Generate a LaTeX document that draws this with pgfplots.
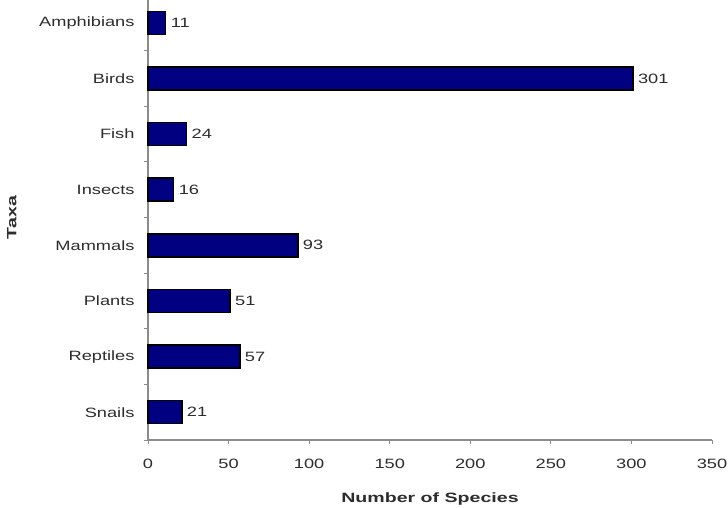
\documentclass[border=0pt]{standalone}
\usepackage{fontspec}
\setmainfont[FakeStretch=1.35]{Liberation Sans}
\newfontfamily\boldlab[FakeStretch=1.45]{Liberation Sans}
\usepackage{pgfplots}
\pgfplotsset{compat=1.18}
\definecolor{barnavy}{RGB}{0,0,128}
\definecolor{txt}{RGB}{45,45,45}
\definecolor{axgray}{RGB}{140,140,140}
\begin{document}
\begin{tikzpicture}
\begin{axis}[
  at={(0,0)}, anchor=south west,
  scale only axis,
  width=564pt, height=445pt,
  xbar, bar width=23pt,
  xmin=0, xmax=350,
  xtick={0,50,...,350},
  ymin=-0.5, ymax=7.5,
  y dir=reverse,
  ytick={-0.5,0.5,...,7.5},
  yticklabels={},
  extra y ticks={0,...,7},
  extra y tick labels={Amphibians,Birds,Fish,Insects,Mammals,Plants,Reptiles,Snails},
  extra y tick style={major tick length=0pt},
  axis lines*=left,
  axis line style={axgray, line width=1.2pt},
  tick style={axgray, line width=0.8pt},
  major tick length=4pt,
  tick align=outside,
  xtick pos=bottom, ytick pos=left,
  /pgf/number format/assume math mode=true,
  ticklabel style={font=\fontsize{13.5}{16}\selectfont, text=txt},
  yticklabel style={xshift=-10pt},
  xticklabel style={yshift=-12pt},
  xlabel={Number of Species},
  ylabel={Taxa},
  label style={font=\boldlab\bfseries\fontsize{13.5}{16}\selectfont, text=txt},
  xlabel style={at={(0.5,0)}, anchor=north, yshift=-49pt},
  ylabel style={at={(0,0.5)}, anchor=south, yshift=128pt},
  nodes near coords,
  nodes near coords style={font=\fontsize{13.5}{16}\selectfont, text=txt, anchor=west, xshift=1pt},
  clip=false,
]
\addplot[fill=barnavy, draw=black, line width=1.4pt] coordinates {(11,0) (301,1) (24,2) (16,3) (93,4) (51,5) (57,6) (21,7)};
\end{axis}
\pgfresetboundingbox
\useasboundingbox (-148pt,-67pt) rectangle (580pt,440pt);
\end{tikzpicture}
\end{document}
